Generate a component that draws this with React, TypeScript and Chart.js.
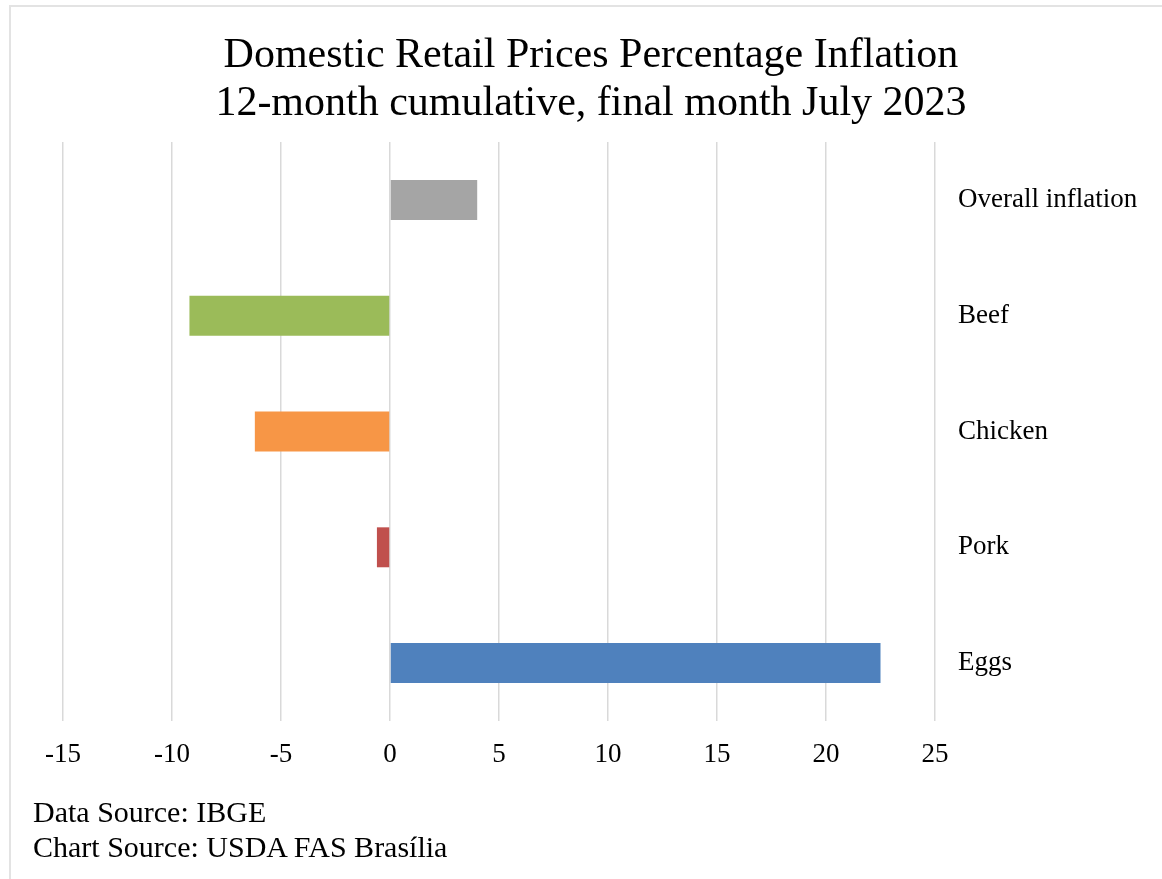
import React, { useEffect, useRef } from "react";
import { Chart, registerables } from "chart.js";

Chart.register(...registerables);

const categories = ["Overall inflation", "Beef", "Chicken", "Pork", "Eggs"];
const values = [4.0, -9.2, -6.2, -0.6, 22.5];
const barColors = ["#A5A5A5", "#9BBB59", "#F79646", "#C0504D", "#4F81BD"];
const titleLines = [
  "Domestic Retail Prices Percentage Inflation",
  "12-month cumulative, final month July 2023",
];
const footerLines = ["Data Source: IBGE", "Chart Source: USDA FAS Brasília"];
const xMin = -15;
const xMax = 25;
const xStep = 5;

const FONT = "'Liberation Serif', 'Times New Roman', serif";

export default function App() {
  const canvasRef = useRef<HTMLCanvasElement | null>(null);

  useEffect(() => {
    document.body.style.margin = "0";
    const canvas = canvasRef.current;
    if (!canvas) return;
    const chart = new Chart(canvas, {
      type: "bar",
      data: {
        labels: categories,
        datasets: [
          {
            data: values,
            backgroundColor: barColors,
            borderWidth: 0,
            barPercentage: 0.345,
            categoryPercentage: 1,
          },
        ],
      },
      options: {
        indexAxis: "y",
        responsive: false,
        animation: false,
        layout: { padding: { left: 63, right: 0, top: 142, bottom: 98 } },
        plugins: {
          legend: { display: false },
          tooltip: { enabled: false },
          title: { display: false },
        },
        scales: {
          x: {
            type: "linear",
            min: xMin,
            max: xMax,
            ticks: {
              stepSize: xStep,
              color: "#000",
              font: { family: FONT, size: 27 },
              padding: 18,
            },
            grid: {
              color: "#D9D9D9",
              lineWidth: 1.5,
              drawTicks: false,
            },
            border: { display: false },
            afterFit: (scale: any) => {
              scale.height = 60;
            },
          },
          y: {
            position: "right",
            ticks: {
              color: "#000",
              font: { family: FONT, size: 27 },
              padding: 23,
            },
            grid: { display: false, drawTicks: false },
            border: { display: false },
            afterFit: (scale: any) => {
              scale.width = 227;
            },
          },
        },
      },
    });
    return () => chart.destroy();
  }, []);

  return (
    <div style={{ position: "relative", width: 1162, height: 879, background: "#fff", overflow: "hidden" }}>
      <div
        style={{
          position: "absolute",
          left: 9,
          top: 5,
          width: 1200,
          height: 900,
          borderTop: "2px solid #E3E3E3",
          borderLeft: "2px solid #E3E3E3",
        }}
      />
      <canvas ref={canvasRef} width={1162} height={879} style={{ position: "absolute", left: 0, top: 0 }} />
      <div
        style={{
          position: "absolute",
          left: 0,
          top: 29,
          width: 1182,
          textAlign: "center",
          fontFamily: FONT,
          fontSize: 42,
          lineHeight: "48px",
          color: "#000",
          whiteSpace: "nowrap",
        }}
      >
        {titleLines.map((l) => (
          <div key={l}>{l}</div>
        ))}
      </div>
      <div
        style={{
          position: "absolute",
          left: 33,
          top: 794,
          fontFamily: FONT,
          fontSize: 30,
          lineHeight: "35px",
          color: "#000",
          whiteSpace: "nowrap",
        }}
      >
        {footerLines.map((l) => (
          <div key={l}>{l}</div>
        ))}
      </div>
    </div>
  );
}
